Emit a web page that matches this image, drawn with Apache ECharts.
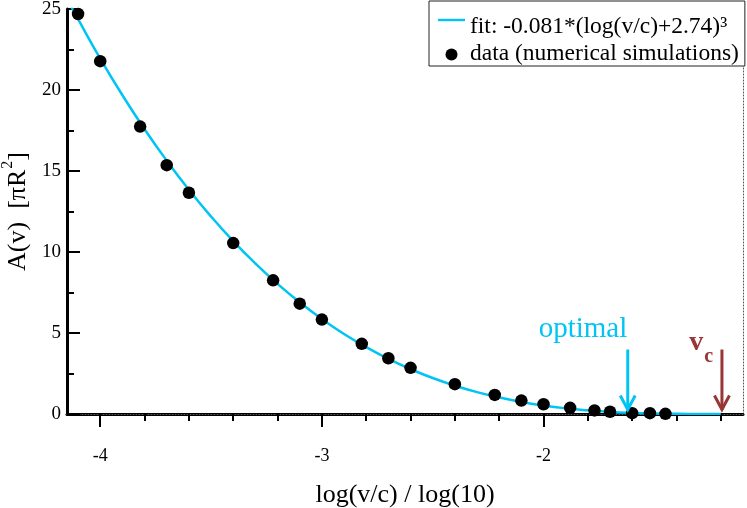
<!DOCTYPE html>
<html><head><meta charset="utf-8">
<script src="https://cdn.jsdelivr.net/npm/echarts@6/dist/echarts.min.js"></script>
<style>html,body{margin:0;padding:0;background:#fff}#c{width:747px;height:508px}</style>
</head><body><div id="c"></div>
<script>
// Simulation data
const simX = [-4.10, -4.00, -3.82, -3.70, -3.60, -3.40, -3.22, -3.10, -3.00, -2.82, -2.70, -2.60, -2.40, -2.22, -2.10, -2.00, -1.88, -1.77, -1.70, -1.60, -1.52, -1.45];
const simY = [24.69, 21.78, 17.74, 15.36, 13.66, 10.55, 8.25, 6.81, 5.83, 4.33, 3.44, 2.85, 1.84, 1.18, 0.83, 0.60, 0.38, 0.22, 0.14, 0.05, 0.05, 0.01];
// Fit curve
const fitX = [-4.15, -4.125, -4.1, -4.0, -3.9, -3.8, -3.7, -3.6, -3.5, -3.4, -3.3, -3.2, -3.1, -3.0, -2.9, -2.8, -2.7, -2.6, -2.5, -2.4, -2.3, -2.2, -2.1, -2.0, -1.9, -1.8, -1.7, -1.6, -1.5, -1.4, -1.3, -1.2];
const fitY = [25.65, 25.0, 24.37, 21.94, 19.68, 17.58, 15.64, 13.84, 12.19, 10.67, 9.29, 8.03, 6.89, 5.86, 4.94, 4.13, 3.40, 2.77, 2.22, 1.75, 1.35, 1.02, 0.745, 0.526, 0.354, 0.225, 0.131, 0.068, 0.029, 0.009, 0.001, 0.0];
// Tick values
const xMajorTicks = [-4, -3, -2];
const xMinorTicks = [-3.8, -3.6, -3.4, -3.2, -2.8, -2.6, -2.4, -2.2, -1.8, -1.6, -1.4, -1.2];
const yTickLabels = [0, 5, 10, 15, 20, 25];
// Annotations
const arrowX = [-1.62, -1.195];
const arrowTopY = 3.98;
const arrowTipY = 0.28;
const optimalLabel = [-1.822, 5.22];
const vLabel = [-1.311, 4.41];
const cLabel = [-1.255, 3.55];

const CYAN = '#00c4f4';
const RED = '#993535';
const FONT = "'Liberation Serif', 'Times New Roman', serif";
const X_MIN = -4.15, X_MAX = -1.1, Y_MIN = 0, Y_MAX = 25;

const chart = echarts.init(document.getElementById('c'), null, {renderer: 'canvas'});
const gridPos = {left: 67, right: 4, top: 9, bottom: 94, containLabel: false, outerBoundsMode: 'none'};
const option = {
  animation: false,
  backgroundColor: '#fff',
  textStyle: {fontFamily: FONT, color: '#000'},
  grid: [Object.assign({}, gridPos), Object.assign({}, gridPos)],
  legend: {
    orient: 'vertical', left: 429, top: 1, align: 'left',
    padding: [14, 6, 0, 9],
    borderColor: '#222', borderWidth: 1, backgroundColor: '#fff',
    itemWidth: 27, itemHeight: 12, itemGap: 3,
    textStyle: {fontFamily: FONT, fontSize: 23.5, color: '#000',
      rich: {
        s: {fontSize: 10, fontFamily: FONT, verticalAlign: 'bottom', lineHeight: 38},
        m: {fontSize: 23.5, fontFamily: FONT, color: '#000', verticalAlign: 'bottom', lineHeight: 23}
      }},
    data: [{name: 'fit', icon: 'path://M0,0L27,0L27,2.4L0,2.4Z'}, {name: 'data', icon: 'circle'}],
    formatter: function (n) { return n === 'fit' ? '{s|\u200b}{m|fit: -0.081*(log(v/c)+2.74)\u00b3}' : '{m|data (numerical simulations)}'; }
  },
  xAxis: [
    {type: 'value', gridIndex: 0, position: 'bottom', min: X_MIN, max: X_MAX,
      name: 'log(v/c) / log(10)', nameLocation: 'middle', nameGap: 68,
      nameTextStyle: {fontSize: 26, fontFamily: FONT, color: '#000'},
      axisLine: {show: true, onZero: false, lineStyle: {color: '#000', width: 3}},
      axisTick: {show: true, inside: false, length: 13, lineStyle: {color: '#000', width: 2}, customValues: xMajorTicks},
      axisLabel: {show: true, margin: 33, fontSize: 18, fontFamily: FONT, color: '#000', customValues: xMajorTicks,
        formatter: function (v) { return String(v); }},
      splitLine: {show: false}},
    {type: 'value', gridIndex: 0, position: 'top', min: X_MIN, max: X_MAX,
      axisLine: {show: true, lineStyle: {color: '#555', width: 1, type: [1, 2]}},
      axisTick: {show: false}, axisLabel: {show: false}, splitLine: {show: false}},
    {type: 'value', gridIndex: 1, position: 'bottom', min: X_MIN, max: X_MAX,
      axisLine: {show: false},
      axisTick: {show: true, inside: false, length: 7, lineStyle: {color: '#000', width: 2}, customValues: xMinorTicks},
      axisLabel: {show: false}, splitLine: {show: false}}
  ],
  yAxis: [
    {type: 'value', gridIndex: 0, position: 'left', min: Y_MIN, max: Y_MAX, interval: 5,
      name: '{m|A(v)  [πR}{sup|2}{m|]}', nameLocation: 'middle', nameGap: 34, nameRotate: 90,
      nameTextStyle: {fontSize: 26, fontFamily: FONT, color: '#000',
        rich: {
          m: {fontSize: 26, fontFamily: FONT, color: '#000', verticalAlign: 'bottom', lineHeight: 28},
          sup: {fontSize: 16, fontFamily: FONT, color: '#000', verticalAlign: 'bottom', lineHeight: 16, padding: [0, 0, 15, 1]}
        }},
      axisLine: {show: true, onZero: false, lineStyle: {color: '#000', width: 3}},
      axisTick: {show: true, inside: true, length: 13, lineStyle: {color: '#000', width: 2}},
      minorTick: {show: true, splitNumber: 2, length: 7, lineStyle: {color: '#000', width: 2}},
      axisLabel: {show: true, margin: 6, fontSize: 19, fontFamily: FONT, color: '#000',
        customValues: yTickLabels, formatter: function (v) { return String(v); }},
      splitLine: {show: false}, minorSplitLine: {show: false}},
    {type: 'value', gridIndex: 0, position: 'right', min: Y_MIN, max: Y_MAX,
      axisLine: {show: true, lineStyle: {color: '#555', width: 1, type: [1, 2]}},
      axisTick: {show: false}, axisLabel: {show: false}, splitLine: {show: false}},
    {type: 'value', gridIndex: 1, min: Y_MIN, max: Y_MAX, show: false}
  ],
  series: [
    {name: 'fit', type: 'line', xAxisIndex: 0, yAxisIndex: 0, smooth: true, symbol: 'none', clip: true,
      lineStyle: {color: CYAN, width: 2.5}, itemStyle: {color: CYAN},
      data: fitX.map(function (x, i) { return [x, fitY[i]]; }), z: 2},
    {name: 'data', type: 'scatter', xAxisIndex: 0, yAxisIndex: 0, symbol: 'circle', symbolSize: 12.5,
      itemStyle: {color: '#000', opacity: 1}, clip: false,
      data: simX.map(function (x, i) { return [x, simY[i]]; }), z: 3}
  ]
};
chart.setOption(option);

function px(x, y) { return chart.convertToPixel({xAxisIndex: 0, yAxisIndex: 0}, [x, y]); }
const colors = [CYAN, RED];
const graphics = [];
arrowX.forEach(function (ax, i) {
  const top = px(ax, arrowTopY), tip = px(ax, arrowTipY);
  graphics.push({type: 'line', z: 50, shape: {x1: top[0], y1: top[1], x2: tip[0], y2: tip[1]},
    style: {stroke: colors[i], lineWidth: 3}});
  graphics.push({type: 'polyline', z: 50, shape: {points: [[tip[0] - 7.5, tip[1] - 14], [tip[0], tip[1]], [tip[0] + 7.5, tip[1] - 14]]},
    style: {stroke: colors[i], lineWidth: 3, fill: null}});
});
const o = px(optimalLabel[0], optimalLabel[1]);
graphics.push({type: 'text', z: 50, x: o[0], y: o[1], style: {text: 'optimal', fill: CYAN, font: "29px " + FONT, textAlign: 'center', textVerticalAlign: 'middle'}});
const v = px(vLabel[0], vLabel[1]);
graphics.push({type: 'text', z: 50, x: v[0], y: v[1], style: {text: 'v', fill: RED, font: "bold 28px " + FONT, textAlign: 'center', textVerticalAlign: 'middle'}});
const c = px(cLabel[0], cLabel[1]);
graphics.push({type: 'text', z: 50, x: c[0], y: c[1], style: {text: 'c', fill: RED, font: "bold 20px " + FONT, textAlign: 'center', textVerticalAlign: 'middle'}});
chart.setOption({graphic: graphics});
</script>
</body></html>
